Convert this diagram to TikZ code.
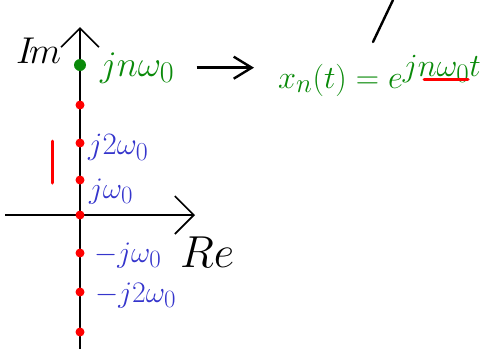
\documentclass[tikz,border=0pt]{standalone}
\usepackage{amsmath}
\usepackage{graphicx}
\usepackage{xcolor}
\usepackage{tikz}
\usetikzlibrary{arrows.meta,positioning}
\definecolor{pen}{HTML}{0A8A0A}
\definecolor{ink}{HTML}{3535CC}
\definecolor{hilite}{HTML}{FF0000}
\newcommand{\hand}[2]{\scalebox{#1}{#2}}
\tikzset{
  axis/.style={draw=black, line width=1.6pt, -{Straight Barb[length=19pt, width=38pt, line width=1.6pt]}},
  flow/.style={draw=black, line width=2.4pt, -{Straight Barb[length=18pt, width=22pt, line width=2.4pt]}},
  stroke/.style={draw=hilite, line width=3pt, line cap=round},
  dot/.style={circle, fill=hilite, inner sep=0pt, minimum size=9pt},
  gdot/.style={dot, fill=pen, minimum size=12pt},
  lbl/.style={text=ink, inner sep=0pt, anchor=base west, font=\Huge},
  glbl/.style={lbl, text=pen},
  big/.style={inner sep=0pt, anchor=base west, font=\Huge},
}

\begin{document}
\begin{tikzpicture}[x=1pt, y=-1pt]
\useasboundingbox (0,0) rectangle (495,349);
\coordinate (o) at (80,215);
\coordinate (top) at (80,27);
\coordinate (bot) at (80,349);
\coordinate (left) at (5,215);
\coordinate (right) at (195,215);
\draw[axis] (bot) -- (top);
\draw[axis] (left) -- (right);
\node[big] (im) at (16,63) {\hand{1.5}{$I\!m$}};
\node[big] (re) at (180,267) {\hand{1.8}{$Re$}};
% points on the imaginary axis
\node[gdot] (pn) at (80,65) {};
\foreach \y/\n in {105/a, 143/b, 180/c, 215/d, 253/e, 292/f, 332/g}
  \node[dot] (p\n) at (80,\y) {};
\node[glbl] (ln) at (100,76) {\hand{1.45}{$jn\omega_0$}};
\node[lbl] (l2) at (88,154) {\hand{1.25}{$j2\omega_0$}};
\node[lbl] (l1) at (89,198) {\hand{1.2}{$j\omega_0$}};
\node[lbl] (lm1) at (94,262) {\hand{1.2}{$-j\omega_0$}};
\node[lbl] (lm2) at (95,302) {\hand{1.2}{$-j2\omega_0$}};
\draw[stroke] (52,141) -- (52,183);
% the harmonic
\node[glbl] (xn) at (278,88) {\hand{1.3}{$x_n(t)=e^{\textstyle jn\omega_0 t}$}};
\draw[flow, shorten <=22pt, shorten >=24pt] (ln) -- (ln -| xn.west);
\draw[stroke] (424,79) -- (468,79);
\draw[black, line width=2.4pt, line cap=round] (393,0) -- (373,42);
\end{tikzpicture}
\end{document}
